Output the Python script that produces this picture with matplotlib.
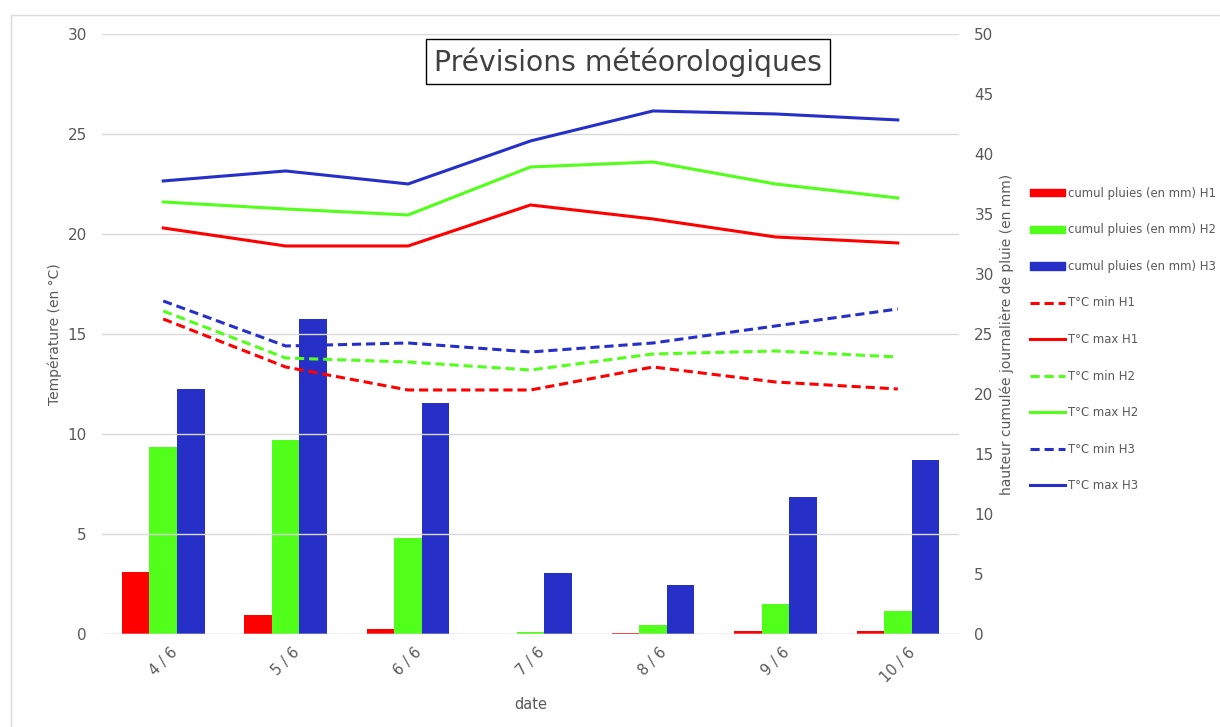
import numpy as np
import matplotlib
matplotlib.use("Agg")
import matplotlib.pyplot as plt
from matplotlib.patches import Patch
from matplotlib.lines import Line2D

# données
dates = ["4 / 6", "5 / 6", "6 / 6", "7 / 6", "8 / 6", "9 / 6", "10 / 6"]

pluie_h1 = [5.2, 1.6, 0.4, 0.0, 0.1, 0.25, 0.25]
pluie_h2 = [15.6, 16.2, 8.0, 0.2, 0.75, 2.5, 1.9]
pluie_h3 = [20.4, 26.25, 19.25, 5.1, 4.1, 11.4, 14.5]

tmin_h1 = [15.75, 13.35, 12.2, 12.2, 13.35, 12.6, 12.25]
tmax_h1 = [20.3, 19.4, 19.4, 21.45, 20.75, 19.85, 19.55]
tmin_h2 = [16.15, 13.8, 13.6, 13.2, 14.0, 14.15, 13.85]
tmax_h2 = [21.6, 21.25, 20.95, 23.35, 23.6, 22.5, 21.8]
tmin_h3 = [16.65, 14.4, 14.55, 14.1, 14.55, 15.4, 16.25]
tmax_h3 = [22.65, 23.15, 22.5, 24.65, 26.15, 26.0, 25.7]

rouge = "#FF0000"
vert = "#52FF1A"
bleu = "#2630C8"
gris = "#595959"

fig = plt.figure(figsize=(12.2, 7.27), dpi=100)
fig.patches.append(plt.Rectangle((0.009, -0.01), 1.0, 0.99, transform=fig.transFigure,
                                 fill=False, edgecolor="#D9D9D9", linewidth=1))

ax_pluie = fig.add_axes([0.0836, 0.1279, 0.7025, 0.8254])
ax_temp = ax_pluie.twinx()

x = np.arange(len(dates))
w = 0.225
ax_pluie.bar(x - w, pluie_h1, w, color=rouge, label="cumul pluies (en mm) H1")
ax_pluie.bar(x, pluie_h2, w, color=vert, label="cumul pluies (en mm) H2")
ax_pluie.bar(x + w, pluie_h3, w, color=bleu, label="cumul pluies (en mm) H3")

lw = 2.2
tirets = (0, (3, 1.6))
ax_temp.plot(x, tmin_h1, color=rouge, ls=tirets, lw=lw, label="T°C min H1")
ax_temp.plot(x, tmax_h1, color=rouge, lw=lw, label="T°C max H1")
ax_temp.plot(x, tmin_h2, color=vert, ls=tirets, lw=lw, label="T°C min H2")
ax_temp.plot(x, tmax_h2, color=vert, lw=lw, label="T°C max H2")
ax_temp.plot(x, tmin_h3, color=bleu, ls=tirets, lw=lw, label="T°C min H3")
ax_temp.plot(x, tmax_h3, color=bleu, lw=lw, label="T°C max H3")

# axe pluie à droite, axe température à gauche
ax_pluie.yaxis.tick_right()
ax_pluie.yaxis.set_label_position("right")
ax_temp.yaxis.tick_left()
ax_temp.yaxis.set_label_position("left")

ax_pluie.set_ylim(0, 50)
ax_pluie.set_yticks(range(0, 51, 5))
ax_temp.set_ylim(0, 30)
ax_temp.set_yticks(range(0, 31, 5))
ax_pluie.set_xlim(-0.5, len(dates) - 0.5)

ax_temp.yaxis.grid(True, color="#D9D9D9", lw=1)
ax_temp.set_axisbelow(True)

for a in (ax_pluie, ax_temp):
    for s in a.spines.values():
        s.set_visible(False)
    a.tick_params(length=0, labelcolor=gris, labelsize=11)
ax_pluie.tick_params(axis="y", pad=11)
ax_temp.tick_params(axis="y", pad=11)

ax_pluie.set_xticks(x)
ax_pluie.set_xticklabels(dates, rotation=45, fontsize=10.5)
ax_pluie.tick_params(axis="x", pad=8)
ax_pluie.set_xlabel("date", color=gris, fontsize=10.5, labelpad=8)
ax_pluie.set_ylabel("hauteur cumulée journalière de pluie (en mm)", color=gris, fontsize=10, labelpad=4)
ax_temp.set_ylabel("Température (en °C)", color=gris, fontsize=10, labelpad=4)

ax_pluie.axhline(0, color="#D9D9D9", lw=1)

fig.text(0.515, 0.915, "Prévisions météorologiques", fontsize=20.3, color="#404040",
         ha="center", va="center",
         bbox=dict(boxstyle="square,pad=0.28", facecolor="white", edgecolor="black", lw=1))

handles = [Patch(color=rouge), Patch(color=vert), Patch(color=bleu),
           Line2D([], [], color=rouge, ls=tirets, lw=lw),
           Line2D([], [], color=rouge, lw=lw),
           Line2D([], [], color=vert, ls=tirets, lw=lw),
           Line2D([], [], color=vert, lw=lw),
           Line2D([], [], color=bleu, ls=tirets, lw=lw),
           Line2D([], [], color=bleu, lw=lw)]
labels = ["cumul pluies (en mm) H1", "cumul pluies (en mm) H2", "cumul pluies (en mm) H3",
          "T°C min H1", "T°C max H1", "T°C min H2", "T°C max H2", "T°C min H3", "T°C max H3"]
leg = fig.legend(handles, labels, loc="upper left", bbox_to_anchor=(0.8405, 0.7495),
                 frameon=False, fontsize=8.4, labelspacing=2.02, handlelength=3.0,
                 handleheight=0.6, handletextpad=0.25, borderaxespad=0)
for t in leg.get_texts():
    t.set_color(gris)

fig.savefig("out.png", dpi=100, facecolor="white")
